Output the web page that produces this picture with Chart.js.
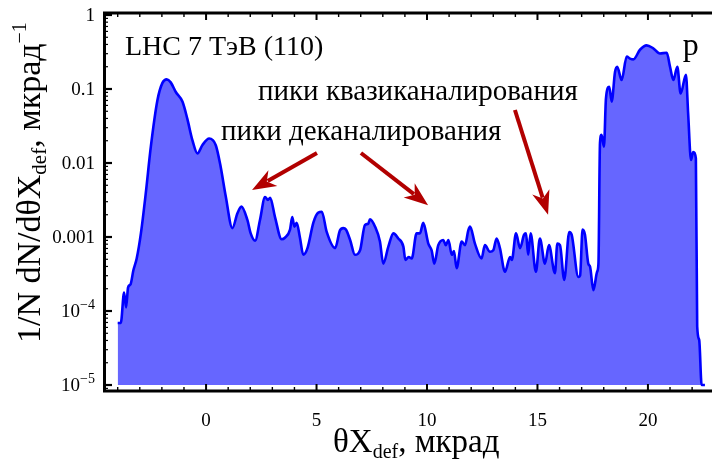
<!DOCTYPE html>
<html><head><meta charset="utf-8">
<script src="https://cdn.jsdelivr.net/npm/chart.js@4.4.1/dist/chart.umd.min.js"></script>
<style>html,body{margin:0;padding:0;background:#fff;}canvas{display:block;}</style>
</head><body>
<canvas id="c" width="712" height="468"></canvas>
<script>
// ---- data ----
const thetaX = [
 -4.00,-3.86,-3.71,-3.62,-3.53,-3.42,-3.29,-3.14,-2.95,-2.73,-2.50,-2.20,-1.98,-1.78,-1.60,-1.37,-1.07,-0.85,-0.62,-0.39,
 -0.17,0.14,0.44,0.66,0.89,1.19,1.42,1.60,1.87,2.02,2.22,2.44,2.67,2.80,2.90,3.12,3.42,3.57,3.80,3.90,
 4.00,4.10,4.25,4.40,4.59,4.86,5.08,5.24,5.46,5.84,6.06,6.21,6.33,6.52,6.74,6.97,7.19,7.34,7.42,7.65,
 7.87,8.02,8.25,8.48,8.70,8.93,9.02,9.17,9.31,9.53,9.68,9.83,10.06,10.21,10.33,10.51,10.74,10.85,10.97,11.12,
 11.22,11.34,11.57,11.72,11.87,11.95,12.17,12.47,12.62,12.85,13.00,13.15,13.30,13.53,13.76,13.84,14.03,14.21,14.39,14.48,
 14.58,14.69,14.93,15.11,15.34,15.52,15.79,15.90,16.02,16.21,16.44,16.55,16.85,16.93,17.04,17.15,17.30,17.38,17.53,17.70,
 17.76,17.83,17.90,18.01,18.10,18.25,18.36,18.51,18.61,18.81,19.04,19.19,19.34,19.64,19.94,20.24,20.54,20.85,21.00,21.15,
 21.33,21.48,21.72,21.82,21.95,22.05,22.17,22.23,22.32,22.43,22.58
];
const density = [
 6.9e-5,6.9e-5,1.78e-4,1.12e-4,2.09e-4,2.29e-4,3.55e-4,5.13e-4,1.12e-3,3.89e-3,0.0166,0.0708,0.120,0.135,0.123,0.0912,0.0676,0.0398,0.0204,0.0135,
 0.0174,0.0214,0.0174,0.00891,0.00355,0.00132,0.00209,0.00257,0.00170,0.00112,0.000891,0.00170,0.00347,0.00316,0.00339,0.00186,0.000933,0.000977,0.00126,0.00186,
 0.00138,0.00155,0.000977,0.000575,0.000708,0.00158,0.00214,0.00219,0.00117,0.000708,0.00123,0.00132,0.00126,0.000912,0.000575,0.000661,0.00145,0.00151,0.00174,0.00138,
 0.000871,0.000437,0.000741,0.00112,0.000955,0.000741,0.000490,0.000537,0.000513,0.00112,0.00112,0.00155,0.000813,0.000661,0.000437,0.000776,0.000912,0.000776,0.000912,0.000575,
 0.000646,0.000380,0.000871,0.000776,0.00123,0.00138,0.000813,0.000513,0.000776,0.000631,0.000661,0.000955,0.000708,0.000339,0.000537,0.000490,0.00112,0.000708,0.00107,0.00112,
 0.000575,0.00112,0.000339,0.000955,0.000437,0.000776,0.000324,0.000813,0.000776,0.000263,0.00117,0.00107,0.000288,0.000302,0.00126,0.00107,0.000437,0.000398,0.000191,0.000339,
 0.000437,0.0186,0.0240,0.0166,0.0741,0.107,0.0676,0.170,0.200,0.132,0.275,0.257,0.251,0.339,0.389,0.355,0.302,0.309,0.200,0.132,
 0.200,0.0871,0.155,0.0468,0.0110,0.0141,0.0115,6.17e-5,4.07e-5,1.0e-5,1.0e-5
];
const xTickValues = [0, 5, 10, 15, 20];
const yTickValues = [1, 0.1, 0.01, 0.001, 0.0001, 0.00001];
// [base, superscript] for each y tick label
const yTickLabels = [["1", ""], ["0.1", ""], ["0.01", ""], ["0.001", ""], ["10", "−4"], ["10", "−5"]];
const plotTitle = "LHC 7 ТэВ (110)";
const particleLabel = "p";
const noteQuasi = "пики квазиканалирования";
const noteDechan = "пики деканалирования";
// annotation anchors in data units [x, y]
const titleAnchor = [-3.67, 0.288];
const particleAnchor = [21.58, 0.288];
const quasiAnchor = [2.35, 0.071];
const dechanAnchor = [0.68, 0.0205];
const arrowFrom = [[5.02, 0.01365], [7.01, 0.01365], [13.98, 0.052]];
const arrowTo   = [[2.08, 0.00432], [10.05, 0.00269], [15.48, 0.0020]];

const points = thetaX.map((x, i) => ({x: x, y: density[i]}));
const SERIF = "'Liberation Serif','Times New Roman',serif";

function drawRich(ctx, parts, x, y) {
  let cx = x;
  for (const p of parts) {
    ctx.font = p.size + "px " + SERIF;
    ctx.fillText(p.t, cx, y + (p.dy || 0));
    cx += ctx.measureText(p.t).width;
  }
}
function richWidth(ctx, parts) {
  let w = 0;
  for (const p of parts) { ctx.font = p.size + "px " + SERIF; w += ctx.measureText(p.t).width; }
  return w;
}

const framePlugin = {
  id: 'frame',
  afterDatasetsDraw(chart) {
    const {ctx, chartArea: a, scales: {x, y}} = chart;
    ctx.save();
    ctx.strokeStyle = '#000';
    ctx.fillStyle = '#000';
    // x ticks (bottom and top), inward
    for (let v = -4; v <= 22; v++) {
      const px = x.getPixelForValue(v);
      const major = (v % 5 === 0);
      const len = major ? 7 : 4;
      ctx.lineWidth = major ? 2 : 1.4;
      ctx.beginPath();
      ctx.moveTo(px, a.bottom); ctx.lineTo(px, a.bottom - len);
      ctx.moveTo(px, a.top); ctx.lineTo(px, a.top + len);
      ctx.stroke();
    }
    // y ticks, inward from left
    for (let n = -6; n <= 0; n++) {
      for (let k = 1; k <= 9; k++) {
        const v = k * Math.pow(10, n);
        if (v < y.min || v > y.max) continue;
        const py = y.getPixelForValue(v);
        const major = (k === 1);
        ctx.lineWidth = major ? 2.2 : 1.2;
        ctx.beginPath();
        ctx.moveTo(a.left, py); ctx.lineTo(a.left + (major ? 8 : 4), py);
        ctx.stroke();
      }
    }
    // frame
    ctx.lineWidth = 3;
    ctx.beginPath();
    ctx.moveTo(a.right + 3, a.top);
    ctx.lineTo(a.left + 0.5, a.top);
    ctx.lineTo(a.left + 0.5, a.bottom);
    ctx.lineTo(a.right + 3, a.bottom);
    ctx.stroke();

    // y tick labels with real superscripts
    ctx.textAlign = 'left';
    ctx.textBaseline = 'middle';
    yTickValues.forEach((v, i) => {
      const py = y.getPixelForValue(v);
      const parts = [{t: yTickLabels[i][0], size: 19}];
      if (yTickLabels[i][1]) parts.push({t: yTickLabels[i][1], size: 14, dy: -7});
      const w = richWidth(ctx, parts);
      drawRich(ctx, parts, a.left - 9 - w, py + 1);
    });

    // axis titles
    ctx.textBaseline = 'alphabetic';
    drawRich(ctx, [{t: "θX", size: 33}, {t: "def", size: 20, dy: 6}, {t: ", мкрад", size: 33}], 333, 452);
    ctx.save();
    ctx.translate(40, 343);
    ctx.rotate(-Math.PI / 2);
    drawRich(ctx, [{t: "1/N dN/dθX", size: 34}, {t: "def", size: 21, dy: 6}, {t: ", мкрад", size: 34}, {t: "−1", size: 20, dy: -14}], 0, 0);
    ctx.restore();

    // annotations
    const P = (d) => [x.getPixelForValue(d[0]), y.getPixelForValue(d[1])];
    ctx.font = "28px " + SERIF;
    let q = P(titleAnchor); ctx.fillText(plotTitle, q[0], q[1]);
    ctx.font = "32px " + SERIF;
    q = P(particleAnchor); ctx.fillText(particleLabel, q[0], q[1]);
    ctx.font = "29px " + SERIF;
    q = P(quasiAnchor); ctx.fillText(noteQuasi, q[0], q[1]);
    q = P(dechanAnchor); ctx.fillText(noteDechan, q[0], q[1]);

    // arrows
    const col = 'rgb(178,0,0)';
    ctx.strokeStyle = col; ctx.fillStyle = col;
    for (let i = 0; i < arrowFrom.length; i++) {
      const f = P(arrowFrom[i]), t = P(arrowTo[i]);
      const dx = t[0] - f[0], dy = t[1] - f[1];
      const L = Math.hypot(dx, dy), ux = dx / L, uy = dy / L;
      const hl = 24, hw = 9, notch = 17;
      ctx.lineWidth = 4;
      ctx.beginPath();
      ctx.moveTo(f[0], f[1]);
      ctx.lineTo(t[0] - ux * (notch + 1), t[1] - uy * (notch + 1));
      ctx.stroke();
      ctx.beginPath();
      ctx.moveTo(t[0], t[1]);
      ctx.lineTo(t[0] - ux * hl - uy * hw, t[1] - uy * hl + ux * hw);
      ctx.lineTo(t[0] - ux * notch, t[1] - uy * notch);
      ctx.lineTo(t[0] - ux * hl + uy * hw, t[1] - uy * hl - ux * hw);
      ctx.closePath();
      ctx.fill();
    }
    ctx.restore();
  }
};

new Chart(document.getElementById('c'), {
  type: 'line',
  data: {
    datasets: [{
      data: points,
      borderColor: 'rgb(0,0,255)',
      backgroundColor: 'rgb(102,102,255)',
      borderWidth: 2.6,
      pointRadius: 0,
      fill: {value: 0.00001},
      cubicInterpolationMode: 'monotone',
      clip: false
    }]
  },
  options: {
    responsive: false,
    animation: false,
    devicePixelRatio: 1,
    layout: {padding: {top: 13, right: 0, left: 0, bottom: 0}},
    plugins: {legend: {display: false}, tooltip: {enabled: false}},
    scales: {
      x: {
        type: 'linear', min: -4.62, max: 22.9,
        grid: {display: false, drawTicks: false}, border: {display: false},
        afterBuildTicks: (s) => { s.ticks = xTickValues.map(v => ({value: v})); },
        afterFit: (s) => { s.height = 77; },
        ticks: {color: '#000', font: {family: SERIF, size: 19}, padding: 19, maxRotation: 0, autoSkip: false}
      },
      y: {
        type: 'logarithmic', min: 8.3e-6, max: 1.064,
        grid: {display: false, drawTicks: false}, border: {display: false},
        afterBuildTicks: (s) => { s.ticks = yTickValues.map(v => ({value: v})); },
        afterFit: (s) => { s.width = 104; },
        ticks: {display: false}
      }
    }
  },
  plugins: [framePlugin]
});
</script>
</body></html>
